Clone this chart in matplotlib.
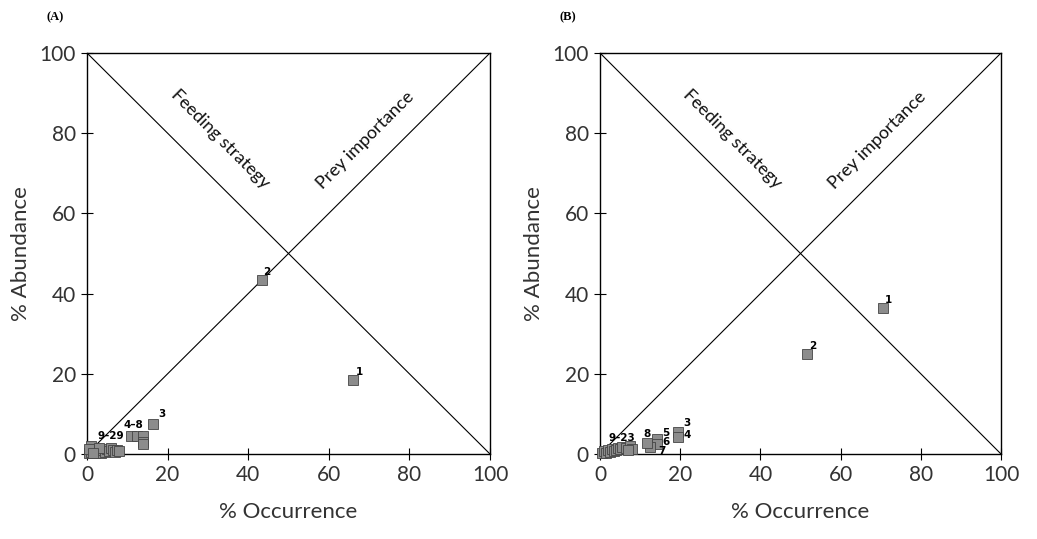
import matplotlib
matplotlib.use('Agg')
import matplotlib.pyplot as plt

# panel A: prey items, % occurrence vs % abundance
a_occ = [66, 43.5, 16.5,
         11, 12.5, 14, 14, 14,
         0.5, 1, 1, 1.5, 2, 2, 2.5, 3, 3.5, 4, 4.5, 5, 5.5, 6, 6.5, 7, 7.5, 8, 0.5, 3, 1.5]
a_abu = [18.5, 43.5, 7.5,
         4.5, 4.5, 4.5, 3.0, 2.5,
         0.3, 0.5, 2.0, 1.0, 0.3, 1.0, 0.5, 0.8, 0.3, 1.0, 0.5, 1.2, 0.8, 1.5, 1.0, 0.5, 1.0, 0.8, 1.2, 1.5, 0.2]
a_labels = ['1', '2', '3', '4\u20138', '9\u201329']
a_label_xy = [(67.5, 20.5), (44.5, 45.5), (18.5, 10), (11.5, 7.2), (6, 4.4)]

# panel B
b_occ = [70.5, 51.5, 19.5, 19.5, 14.2, 14.2, 12.5, 11.8,
         0.5, 1, 1.5, 2, 2.5, 3, 3.5, 4, 4.5, 5, 5.5, 6.5, 7.5, 8, 7]
b_abu = [36.5, 25.0, 5.6, 4.2, 3.8, 2.5, 1.8, 2.8,
         0.3, 0.8, 0.3, 1.0, 0.5, 1.2, 0.8, 1.0, 1.5, 1.2, 1.8, 1.5, 2.0, 1.2, 1.0]
b_labels = ['1', '2', '3', '4', '5', '6', '7', '8', '9\u201323']
b_label_xy = [(72, 38.5), (53, 27), (21.7, 7.8), (21.7, 4.7), (16.4, 5.3),
              (16.4, 2.9), (15.4, 0.7), (11.7, 5.1), (5.5, 4.1)]

ticks = [0, 20, 40, 60, 80, 100]

plt.rcParams['font.family'] = ['Lato', 'DejaVu Sans']

fig = plt.figure(figsize=(10.37, 5.39), dpi=100)
ax_a = fig.add_axes([0.0839, 0.1577, 0.3886, 0.744])
ax_b = fig.add_axes([0.5786, 0.1577, 0.3867, 0.744])


def draw_panel(ax, occ, abu, labels, label_xy, tag):
    ax.set_xlim(0, 100)
    ax.set_ylim(0, 100)
    ax.plot([0, 100], [0, 100], color='black', lw=0.8)
    ax.plot([0, 100], [100, 0], color='black', lw=0.8)
    ax.plot(occ, abu, 's', ms=6.5, mfc='#8c8c8c', mec='#444444', mew=0.6,
            clip_on=False, zorder=3)
    for lab, (x, y) in zip(labels, label_xy):
        ax.text(x, y, lab, fontsize=7.5, fontweight='bold', family='DejaVu Sans',
                ha='center', va='center')
    ax.text(33, 78.5, 'Feeding strategy', rotation=-45, rotation_mode='anchor',
            ha='center', va='center', fontsize=13, color='#111111')
    ax.text(69.2, 78.3, 'Prey importance', rotation=45, rotation_mode='anchor',
            ha='center', va='center', fontsize=13, color='#111111')
    ax.set_xticks(ticks)
    ax.set_yticks(ticks)
    ax.tick_params(direction='inout', length=8, width=0.8, labelsize=15,
                   color='black', labelcolor='#333333', pad=4)
    for sp in ax.spines.values():
        sp.set_linewidth(1.0)
    ax.set_xlabel('% Occurrence', fontsize=16, labelpad=12, color='#333333')
    ax.set_ylabel('% Abundance', fontsize=16, labelpad=6, color='#333333')
    ax.text(-0.08, 1.09, tag, transform=ax.transAxes, fontsize=9,
            fontweight='bold', family='Liberation Serif', ha='center', va='center')


draw_panel(ax_a, a_occ, a_abu, a_labels, a_label_xy, '(A)')
draw_panel(ax_b, b_occ, b_abu, b_labels, b_label_xy, '(B)')

fig.savefig('out.png', dpi=100)
